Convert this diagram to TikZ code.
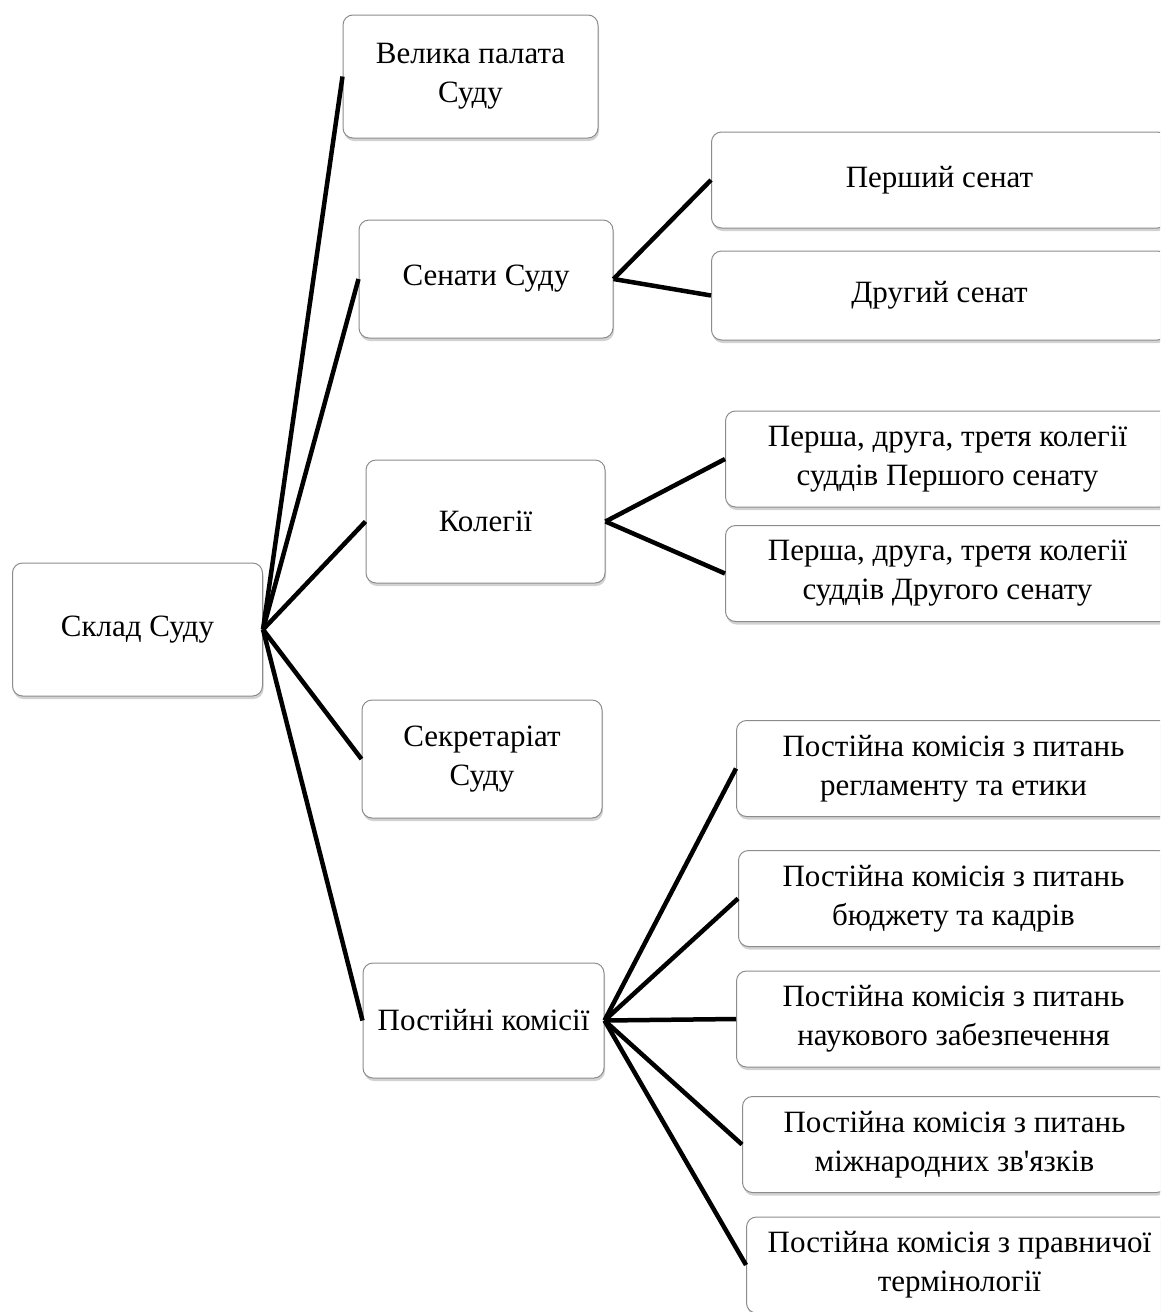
\documentclass[tikz,border=0pt]{standalone}
\usepackage{fontspec}
\setmainfont{Liberation Serif}[Ligatures=TeXOff]
\usetikzlibrary{shadows}
\tikzset{
  box/.style={draw=black!45, line width=1pt, rounded corners=10pt, fill=white, align=center, inner sep=0pt,
    font=\fontsize{31}{39}\selectfont,
    drop shadow={shadow xshift=1pt, shadow yshift=-3pt, opacity=0.25, fill=black!70}},
  leaf/.style={box, anchor=west, minimum height=96pt},
  link/.style={line width=4.5pt}
}
\begin{document}
\begin{tikzpicture}[x=1pt,y=-1pt]
\clip (0,0) rectangle (1160,1312);
\node[box, minimum width=250pt, minimum height=133pt] (sklad) at (137.5,629.5) {Склад Суду};
\node[box, minimum width=255pt, minimum height=123pt] (palata) at (470.5,76.5) {Велика палата\\Суду};
\node[box, minimum width=254pt, minimum height=118pt] (senaty) at (486,279) {Сенати Суду};
\node[box, minimum width=239pt, minimum height=123pt] (kolegii) at (485.5,521.5) {Колегії};
\node[box, minimum width=240pt, minimum height=118pt] (sekret) at (482,759) {Секретаріат\\Суду};
\node[box, minimum width=241pt, minimum height=115pt] (komisii) at (483.5,1020.5) {Постійні комісії};

\node[leaf, minimum width=456pt] (sen1) at (711,180) {Перший сенат};
\node[leaf, minimum width=456pt, minimum height=89pt] (sen2) at (711,295.5) {Другий сенат};

\node[leaf, minimum width=444pt] (kol1) at (725,459) {Перша, друга, третя колегії\\суддів Першого сенату};
\node[leaf, minimum width=444pt] (kol2) at (725,573.5) {Перша, друга, третя колегії\\суддів Другого сенату};

\node[leaf, minimum width=434pt] (kom1) at (736,768.5) {Постійна комісія з питань\\регламенту та етики};
\node[leaf, minimum width=430pt] (kom2) at (738,898.5) {Постійна комісія з питань\\бюджету та кадрів};
\node[leaf, minimum width=434pt] (kom3) at (736,1019) {Постійна комісія з питань\\наукового забезпечення};
\node[leaf, minimum width=424pt] (kom4) at (742,1144.5) {Постійна комісія з питань\\міжнародних зв'язків};
\node[leaf, minimum width=426pt] (kom5) at (746,1265) {Постійна комісія з правничої\\термінології};

\draw[link] (sklad.east)--(palata.west);
\draw[link] (sklad.east)--(senaty.west);
\draw[link] (sklad.east)--(kolegii.west);
\draw[link] (sklad.east)--(sekret.west);
\draw[link] (sklad.east)--(komisii.west);

\draw[link] (senaty.east)--(sen1.west);
\draw[link] (senaty.east)--(sen2.west);

\draw[link] (kolegii.east)--(kol1.west);
\draw[link] (kolegii.east)--(kol2.west);

\draw[link] (komisii.east)--(kom1.west);
\draw[link] (komisii.east)--(kom2.west);
\draw[link] (komisii.east)--(kom3.west);
\draw[link] (komisii.east)--(kom4.west);
\draw[link] (komisii.east)--(kom5.west);
\end{tikzpicture}
\end{document}
